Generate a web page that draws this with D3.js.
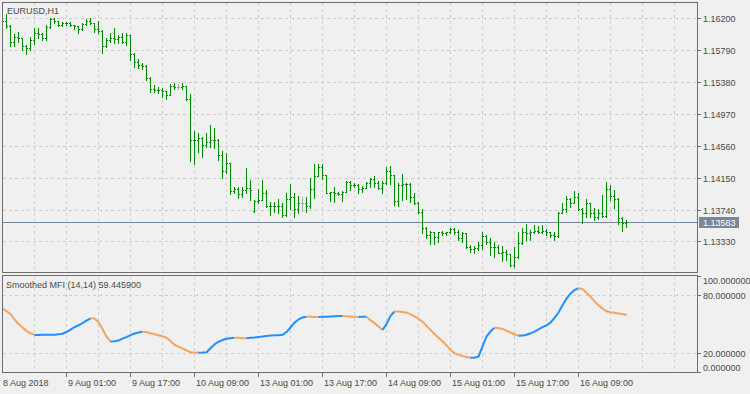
<!DOCTYPE html>
<html>
<head>
<meta charset="utf-8">
<script src="https://cdn.jsdelivr.net/npm/d3@7/dist/d3.min.js"></script>
<style>
  html, body { margin: 0; padding: 0; background: #f0f0f0; }
  svg { display: block; font-family: "Liberation Sans", Arial, sans-serif; }
</style>
</head>
<body>
<script>
// EURUSD H1, one entry per hourly bar (8 Aug 09:00 -> 16 Aug 21:00)
const openP = [1.16179,1.16166,1.16105,1.15892,1.15960,1.15947,1.15844,1.15818,1.15921,1.16011,
  1.15998,1.15947,1.16089,1.16185,1.16166,1.16114,1.16140,1.16145,1.16114,1.16101,
  1.16063,1.16127,1.16166,1.16140,1.16063,1.16037,1.15844,1.15921,1.15947,1.15934,
  1.15960,1.15895,1.15986,1.15741,1.15638,1.15599,1.15587,1.15432,1.15291,1.15278,
  1.15283,1.15265,1.15213,1.15329,1.15316,1.15316,1.15329,1.15158,1.14634,1.14640,
  1.14660,1.14570,1.14612,1.14634,1.14628,1.14441,1.14235,1.14342,1.13982,1.14004,
  1.13939,1.13991,1.14016,1.13724,1.13849,1.13862,1.13952,1.13785,1.13790,1.13780,
  1.13788,1.13669,1.13875,1.13897,1.13746,1.13823,1.13823,1.13785,1.14000,1.14171,
  1.14291,1.14184,1.13956,1.13961,1.13950,1.13943,1.13969,1.14098,1.14055,1.14060,
  1.14000,1.14013,1.14077,1.14128,1.14077,1.14013,1.14077,1.14239,1.14184,1.13853,
  1.14055,1.14068,1.14062,1.13901,1.13820,1.13711,1.13498,1.13412,1.13454,1.13382,
  1.13454,1.13441,1.13446,1.13493,1.13454,1.13369,1.13433,1.13253,1.13228,1.13240,
  1.13283,1.13399,1.13325,1.13253,1.13258,1.13184,1.13197,1.13167,1.13025,1.13125,
  1.13305,1.13450,1.13441,1.13454,1.13460,1.13449,1.13457,1.13451,1.13412,1.13399,
  1.13691,1.13742,1.13871,1.13820,1.13904,1.13742,1.13691,1.13820,1.13691,1.13647,
  1.13691,1.13656,1.14000,1.13914,1.13871,1.13626,1.13562];
const highP = [1.16256,1.16252,1.16114,1.15998,1.16028,1.15947,1.15857,1.15964,1.16076,1.16080,
  1.16011,1.16114,1.16200,1.16200,1.16166,1.16157,1.16157,1.16150,1.16114,1.16105,
  1.16140,1.16192,1.16200,1.16140,1.16170,1.16050,1.15943,1.16007,1.16072,1.15986,
  1.16007,1.16007,1.15990,1.15750,1.15673,1.15621,1.15599,1.15449,1.15342,1.15312,
  1.15300,1.15270,1.15355,1.15364,1.15355,1.15364,1.15329,1.15226,1.14754,1.14728,
  1.14677,1.14728,1.14827,1.14785,1.14643,1.14497,1.14471,1.14342,1.14033,1.14025,
  1.14033,1.14270,1.14119,1.13862,1.14000,1.14119,1.13991,1.13840,1.13840,1.13871,
  1.13827,1.13948,1.14068,1.13948,1.13914,1.13901,1.13904,1.14141,1.14325,1.14325,
  1.14325,1.14184,1.13969,1.14025,1.13969,1.13982,1.14110,1.14110,1.14077,1.14065,
  1.14042,1.14098,1.14141,1.14171,1.14110,1.14110,1.14283,1.14300,1.14184,1.14085,
  1.14197,1.14085,1.14077,1.13952,1.13840,1.13742,1.13518,1.13467,1.13454,1.13454,
  1.13467,1.13454,1.13498,1.13498,1.13476,1.13454,1.13441,1.13283,1.13270,1.13325,
  1.13454,1.13412,1.13369,1.13325,1.13283,1.13270,1.13219,1.13170,1.13253,1.13454,
  1.13498,1.13553,1.13476,1.13540,1.13527,1.13540,1.13485,1.13454,1.13454,1.13711,
  1.13820,1.13914,1.13884,1.13982,1.13948,1.13755,1.13871,1.13827,1.13755,1.13742,
  1.13926,1.14094,1.14055,1.13991,1.13884,1.13639,1.13605];
const lowP = [1.16127,1.16080,1.15848,1.15848,1.15895,1.15793,1.15741,1.15793,1.15870,1.15947,
  1.15925,1.15925,1.16080,1.16140,1.16098,1.16105,1.16114,1.16098,1.16063,1.16011,
  1.16054,1.16120,1.16123,1.16028,1.16007,1.15758,1.15835,1.15899,1.15887,1.15887,
  1.15879,1.15857,1.15664,1.15578,1.15557,1.15544,1.15406,1.15256,1.15256,1.15243,
  1.15192,1.15158,1.15213,1.15287,1.15287,1.15287,1.15149,1.14368,1.14325,1.14484,
  1.14419,1.14540,1.14548,1.14527,1.14377,1.14141,1.14206,1.13939,1.13948,1.13884,
  1.13904,1.13948,1.13862,1.13711,1.13827,1.13862,1.13776,1.13669,1.13711,1.13691,
  1.13647,1.13656,1.13742,1.13647,1.13695,1.13720,1.13711,1.13755,1.13884,1.14171,
  1.14128,1.13948,1.13853,1.13840,1.13926,1.13853,1.13960,1.13991,1.14025,1.13948,
  1.13969,1.14013,1.14033,1.14025,1.14000,1.13956,1.14068,1.14068,1.13798,1.13785,
  1.13862,1.13871,1.13840,1.13811,1.13699,1.13433,1.13369,1.13296,1.13296,1.13325,
  1.13412,1.13412,1.13441,1.13424,1.13347,1.13325,1.13240,1.13197,1.13184,1.13219,
  1.13228,1.13296,1.13154,1.13125,1.13176,1.13081,1.13090,1.13013,1.13004,1.13112,
  1.13296,1.13347,1.13347,1.13433,1.13433,1.13433,1.13412,1.13390,1.13347,1.13390,
  1.13691,1.13711,1.13768,1.13820,1.13733,1.13562,1.13647,1.13647,1.13605,1.13614,
  1.13647,1.13647,1.13862,1.13755,1.13553,1.13467,1.13511];
const closeP = [1.16166,1.16105,1.15892,1.15960,1.15947,1.15844,1.15818,1.15921,1.16011,1.15998,
  1.15947,1.16089,1.16185,1.16166,1.16114,1.16140,1.16145,1.16114,1.16101,1.16063,
  1.16127,1.16166,1.16140,1.16063,1.16037,1.15844,1.15921,1.15947,1.15934,1.15960,
  1.15895,1.15986,1.15741,1.15638,1.15599,1.15587,1.15432,1.15291,1.15278,1.15283,
  1.15265,1.15213,1.15329,1.15316,1.15316,1.15329,1.15158,1.14634,1.14640,1.14660,
  1.14570,1.14612,1.14634,1.14628,1.14441,1.14235,1.14342,1.13982,1.14004,1.13939,
  1.13991,1.14016,1.13991,1.13849,1.13862,1.13952,1.13785,1.13790,1.13780,1.13788,
  1.13669,1.13875,1.13897,1.13746,1.13823,1.13823,1.13785,1.14000,1.14171,1.14291,
  1.14184,1.13956,1.13961,1.13950,1.13943,1.13969,1.14098,1.14055,1.14060,1.14000,
  1.14013,1.14077,1.14128,1.14077,1.14013,1.14077,1.14239,1.14184,1.13853,1.14055,
  1.14068,1.14062,1.13901,1.13820,1.13711,1.13498,1.13412,1.13454,1.13382,1.13454,
  1.13441,1.13446,1.13493,1.13454,1.13369,1.13433,1.13253,1.13228,1.13240,1.13283,
  1.13399,1.13325,1.13253,1.13258,1.13184,1.13197,1.13167,1.13025,1.13125,1.13305,
  1.13450,1.13441,1.13454,1.13460,1.13449,1.13457,1.13451,1.13412,1.13399,1.13691,
  1.13742,1.13871,1.13820,1.13904,1.13742,1.13691,1.13820,1.13691,1.13647,1.13691,
  1.13656,1.14000,1.13914,1.13871,1.13626,1.13562,1.13583];

// Smoothed MFI (14,14), one value per bar
const mfi = [66.0,63.5,60.2,55.0,50.0,46.5,43.0,40.5,38.8,38.85,
  38.9,38.95,39.0,39.1,39.4,40.0,41.8,44.2,46.8,48.8,
  51.0,53.6,56.0,55.7,52.0,45.0,37.0,32.0,32.3,33.0,
  35.0,36.6,38.6,40.3,41.3,42.2,41.8,40.5,39.5,38.5,
  37.4,36.0,32.5,28.7,26.8,24.8,22.8,20.9,20.6,20.4,
  20.6,21.0,25.0,29.0,31.8,33.5,34.8,35.4,35.9,35.8,
  35.5,35.4,35.8,36.2,36.7,37.1,37.6,38.1,38.4,38.6,
  38.9,41.8,46.5,51.5,54.8,56.8,57.6,57.5,57.4,57.3,
  57.5,57.7,57.9,58.1,58.3,58.4,58.2,57.9,57.6,57.4,
  57.5,57.6,54.0,51.0,47.5,44.0,50.0,58.5,63.0,62.9,
  62.6,61.8,60.3,58.0,55.6,52.5,48.2,44.0,39.8,36.0,
  32.3,28.0,23.5,20.0,18.2,17.0,16.0,15.2,15.3,16.5,
  27.0,37.0,42.5,46.3,45.9,45.0,43.3,41.3,39.5,38.0,
  38.1,39.0,40.5,42.3,44.5,46.8,48.6,51.5,56.5,62.0,
  69.5,76.2,81.5,85.0,87.1,86.2,82.5,78.3,73.5,69.5,
  66.0,63.3,62.3,61.7,61.0,60.4,59.4459];

const priceTicks = [1.16200, 1.15790, 1.15380, 1.14970, 1.14560, 1.14150, 1.13740, 1.13330];
const mfiTicks = [100, 80, 20, 0];
const mfiLevels = [80, 20];
const timeLabels = ['8 Aug 2018', '9 Aug 01:00', '9 Aug 17:00', '10 Aug 09:00', '13 Aug 01:00',
  '13 Aug 17:00', '14 Aug 09:00', '15 Aug 01:00', '15 Aug 17:00', '16 Aug 09:00'];

// layout
const W = 750, H = 394;
const mainBox = { left: 2, right: 697, top: 2, bottom: 272 };
const subBox = { left: 2, right: 697, top: 275, bottom: 372 };
const barsPerLabel = 16, barsPerGrid = 8;

const BORDER = '#6d6d6d', GRID = '#cfcfcf', TEXT = '#4a4a4a';
const BAR = '#008c00', DOJI = '#a8a8a8';
const UP = '#1e90ff', DOWN = '#f4a460', PRICE_LINE = '#778899';

const svg = d3.select('body').append('svg')
    .attr('width', W)
    .attr('height', H)
    .style('font-size', '9px');

svg.append('rect').attr('width', W).attr('height', H).attr('fill', '#f0f0f0');

// scales
const n = closeP.length;
const x = d3.scaleLinear().domain([0, n - 1]).range([2, 2 + 4 * (n - 1)]);
const yP = d3.scaleLinear().domain([1.12923, 1.16397]).range([273, 3]);
const yM = d3.scaleLinear().domain([0, 100]).range([372.5, 275.7]);
const px = v => Math.round(v) + 0.5;

// clip paths
const defs = svg.append('defs');
defs.append('clipPath').attr('id', 'clipMain').append('rect')
    .attr('x', mainBox.left).attr('y', mainBox.top)
    .attr('width', mainBox.right - mainBox.left).attr('height', mainBox.bottom - mainBox.top);
defs.append('clipPath').attr('id', 'clipSub').append('rect')
    .attr('x', subBox.left).attr('y', subBox.top)
    .attr('width', subBox.right - subBox.left).attr('height', subBox.bottom - subBox.top);

// vertical grid (both panes)
const gridIdx = d3.range(barsPerGrid, n + 20, barsPerGrid).filter(i => x(i) < mainBox.right - 2);
[mainBox, subBox].forEach(b => {
    svg.append('g').selectAll('line').data(gridIdx).join('line')
        .attr('x1', i => px(x(i))).attr('x2', i => px(x(i)))
        .attr('y1', b.top + 1).attr('y2', b.bottom)
        .attr('stroke', GRID).attr('stroke-dasharray', '3,3')
        .attr('shape-rendering', 'crispEdges');
});

// horizontal grid
svg.append('g').selectAll('line').data(priceTicks).join('line')
    .attr('x1', mainBox.left + 1).attr('x2', mainBox.right)
    .attr('y1', d => px(yP(d))).attr('y2', d => px(yP(d)))
    .attr('stroke', GRID).attr('stroke-dasharray', '3,3')
    .attr('shape-rendering', 'crispEdges');
svg.append('g').selectAll('line').data(mfiLevels).join('line')
    .attr('x1', subBox.left + 1).attr('x2', subBox.right)
    .attr('y1', d => px(yM(d))).attr('y2', d => px(yM(d)))
    .attr('stroke', GRID).attr('stroke-dasharray', '3,3')
    .attr('shape-rendering', 'crispEdges');

// current price line
const lastY = px(yP(closeP[n - 1]));
svg.append('line')
    .attr('x1', mainBox.left).attr('x2', mainBox.right)
    .attr('y1', lastY).attr('y2', lastY)
    .attr('stroke', PRICE_LINE).attr('shape-rendering', 'crispEdges');

// OHLC bars
const bars = svg.append('g').attr('clip-path', 'url(#clipMain)')
    .attr('shape-rendering', 'crispEdges');
const idx = d3.range(n);
const barColor = i => openP[i] === closeP[i] ? DOJI : BAR;
bars.selectAll('.hl').data(idx).join('rect')
    .attr('x', i => Math.round(x(i)))
    .attr('y', i => Math.round(yP(highP[i])))
    .attr('width', 1)
    .attr('height', i => Math.round(yP(lowP[i])) - Math.round(yP(highP[i])) + 1)
    .attr('fill', barColor);
bars.selectAll('.op').data(idx).join('rect')
    .attr('x', i => Math.round(x(i)) - 1)
    .attr('y', i => Math.round(yP(openP[i])))
    .attr('width', 1).attr('height', 1)
    .attr('fill', barColor);
bars.selectAll('.cl').data(idx).join('rect')
    .attr('x', i => Math.round(x(i)) + 1)
    .attr('y', i => Math.round(yP(closeP[i])))
    .attr('width', 1).attr('height', 1)
    .attr('fill', barColor);

// MFI coloured line: blue while rising, orange while falling
const dirs = [];
mfi.forEach((v, i) => {
    if (i === 0) dirs.push(false);
    else if (v > mfi[i - 1]) dirs.push(true);
    else if (v < mfi[i - 1]) dirs.push(false);
    else dirs.push(dirs[i - 1]);
});
const runs = [];
for (let i = 1; i < n; i++) {
    const last = runs[runs.length - 1];
    if (last && last.up === dirs[i]) last.pts.push(i);
    else runs.push({ up: dirs[i], pts: [i - 1, i] });
}
const line = d3.line().x(i => x(i) + 0.5).y(i => yM(mfi[i]));
svg.append('g').attr('clip-path', 'url(#clipSub)')
    .selectAll('path').data(runs).join('path')
    .attr('d', r => line(r.pts))
    .attr('fill', 'none')
    .attr('stroke', r => r.up ? UP : DOWN)
    .attr('stroke-width', 2)
    .attr('stroke-linejoin', 'round');

// pane borders
[mainBox, subBox].forEach(b => {
    svg.append('rect')
        .attr('x', b.left + 0.5).attr('y', b.top + 0.5)
        .attr('width', b.right - b.left).attr('height', b.bottom - b.top)
        .attr('fill', 'none').attr('stroke', BORDER)
        .attr('shape-rendering', 'crispEdges');
});

// price axis
const pAxis = svg.append('g');
pAxis.selectAll('line').data(priceTicks).join('line')
    .attr('x1', mainBox.right).attr('x2', mainBox.right + 4)
    .attr('y1', d => px(yP(d))).attr('y2', d => px(yP(d)))
    .attr('stroke', BORDER).attr('shape-rendering', 'crispEdges');
pAxis.selectAll('text').data(priceTicks).join('text')
    .attr('x', mainBox.right + 6)
    .attr('y', d => Math.round(yP(d)) + 4)
    .attr('fill', TEXT)
    .text(d => d.toFixed(5));

// current price tag
svg.append('rect')
    .attr('x', mainBox.right + 2).attr('y', lastY - 5.5)
    .attr('width', 40).attr('height', 11)
    .attr('fill', PRICE_LINE);
svg.append('text')
    .attr('x', mainBox.right + 6).attr('y', lastY + 3.5)
    .attr('fill', '#ffffff')
    .text(closeP[n - 1].toFixed(5));

// MFI axis
const mAxis = svg.append('g');
mAxis.selectAll('line').data(mfiTicks).join('line')
    .attr('x1', subBox.right).attr('x2', subBox.right + 4)
    .attr('y1', d => Math.min(Math.max(px(yM(d)), subBox.top + 0.5), subBox.bottom + 0.5))
    .attr('y2', d => Math.min(Math.max(px(yM(d)), subBox.top + 0.5), subBox.bottom + 0.5))
    .attr('stroke', BORDER).attr('shape-rendering', 'crispEdges');
mAxis.selectAll('text').data(mfiTicks).join('text')
    .attr('x', subBox.right + 6)
    .attr('y', d => Math.min(Math.max(Math.round(yM(d)), subBox.top + 5), subBox.bottom - 5) + 4)
    .attr('fill', TEXT)
    .text(d => d.toFixed(6));

// time axis
const tIdx = timeLabels.map((d, k) => k * barsPerLabel);
const tAxis = svg.append('g');
tAxis.selectAll('line').data(tIdx.slice(1)).join('line')
    .attr('x1', i => px(x(i))).attr('x2', i => px(x(i)))
    .attr('y1', subBox.bottom).attr('y2', subBox.bottom + 5)
    .attr('stroke', BORDER).attr('shape-rendering', 'crispEdges');
tAxis.selectAll('text').data(timeLabels).join('text')
    .attr('x', (d, k) => Math.round(x(tIdx[k])) + (k === 0 ? 1 : 2))
    .attr('y', subBox.bottom + 14)
    .attr('fill', TEXT)
    .text(d => d);

// pane captions
svg.append('text').attr('x', 7).attr('y', 13.5).attr('fill', TEXT).text('EURUSD,H1');
svg.append('text').attr('x', 6).attr('y', subBox.top + 13)
    .attr('fill', TEXT)
    .text('Smoothed MFI (14,14) ' + mfi[n - 1].toFixed(6));
</script>
</body>
</html>
